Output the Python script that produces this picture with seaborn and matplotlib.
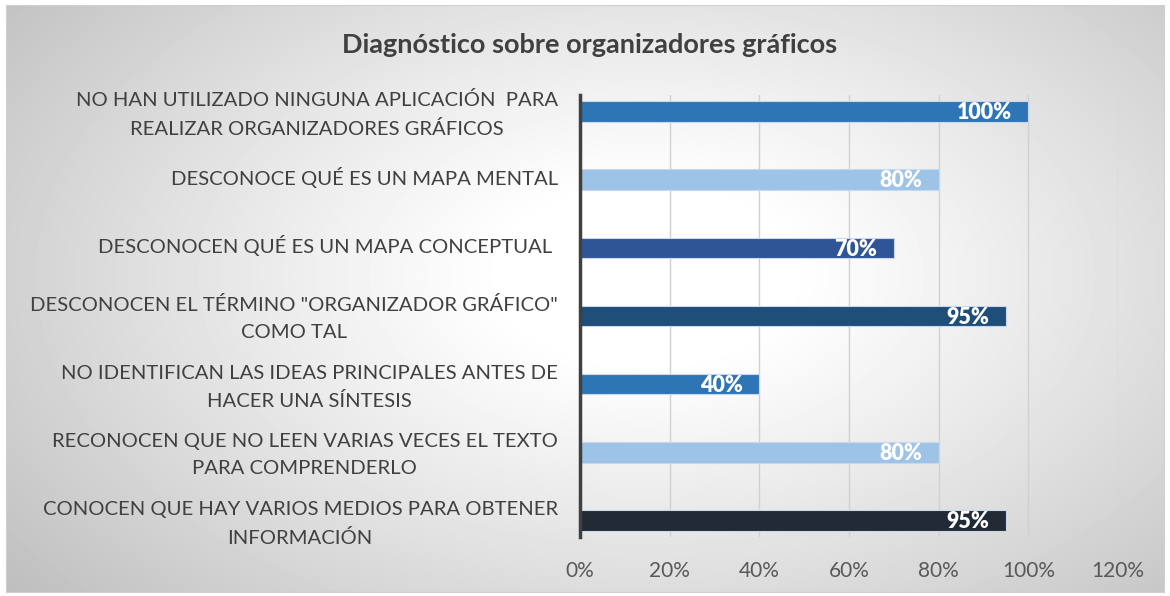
import numpy as np
import pandas as pd
import seaborn as sns
import matplotlib.pyplot as plt
from matplotlib.transforms import ScaledTranslation

categories = [
    "NO HAN UTILIZADO NINGUNA APLICACIÓN  PARA\nREALIZAR ORGANIZADORES GRÁFICOS",
    "DESCONOCE QUÉ ES UN MAPA MENTAL",
    "DESCONOCEN QUÉ ES UN MAPA CONCEPTUAL ",
    "DESCONOCEN EL TÉRMINO \"ORGANIZADOR GRÁFICO\"\nCOMO TAL",
    "NO IDENTIFICAN LAS IDEAS PRINCIPALES ANTES DE\nHACER UNA SÍNTESIS",
    "RECONOCEN QUE NO LEEN VARIAS VECES EL TEXTO\nPARA COMPRENDERLO",
    "CONOCEN QUE HAY VARIOS MEDIOS PARA OBTENER\nINFORMACIÓN",
]
values = [1.00, 0.80, 0.70, 0.95, 0.40, 0.80, 0.95]
bar_colors = ["#2E75B6", "#9DC3E6", "#2F5597", "#1F4E79", "#2E75B6", "#9DC3E6", "#222A35"]
xticks = [0, 0.2, 0.4, 0.6, 0.8, 1.0, 1.2]
title = "Diagnóstico sobre organizadores gráficos"

df = pd.DataFrame({"cat": categories, "val": values})

sns.set_style("white")
plt.rcParams["font.family"] = ["Lato", "DejaVu Sans"]

W, H = 1170, 596
fig = plt.figure(figsize=(W / 100, H / 100), dpi=100)
fig.patch.set_facecolor("white")

# fondo degradado radial (centro blanco, bordes grises)
bg = fig.add_axes([6 / W, 1 - 592 / H, 1158 / W, 587 / H], zorder=0)
yy, xx = np.mgrid[0:587, 0:1158]
r = np.sqrt(((xx - 640) / 700.0) ** 2 + ((yy - 270) / 420.0) ** 2)
shade = 1.0 - 0.26 * np.clip(r - 0.2, 0, 1) ** 1.1
bg.imshow(shade, cmap="gray", vmin=0, vmax=1, aspect="auto", interpolation="bilinear")
bg.set_xticks([])
bg.set_yticks([])
for s in bg.spines.values():
    s.set_color("#d0d0d0")
    s.set_linewidth(0.8)

ax = fig.add_axes([580 / W, 1 - 537 / H, (1118 - 580) / W, (537 - 95) / H], zorder=1)
ax.set_facecolor("none")

sns.barplot(data=df, y="cat", x="val", hue="cat", palette=bar_colors, legend=False,
            orient="h", width=0.30, saturation=1, ax=ax, edgecolor="#c9d8ea",
            linewidth=0.8, zorder=3)

ax.set_xlim(0, 1.2)
ax.set_ylim(6.24, -0.24)
ax.set_xticks(xticks)
ax.set_xticklabels([f"{int(round(t * 100))}%" for t in xticks])
ax.set_xlabel("")
ax.set_ylabel("")
ax.grid(axis="x", color="#d0d0d0", linewidth=1.0, zorder=0)
ax.grid(axis="y", visible=False)
for name in ["top", "right", "bottom"]:
    ax.spines[name].set_visible(False)
ax.spines["left"].set_color("#404040")
ax.spines["left"].set_linewidth(2.5)
ax.spines["left"].set_zorder(4)
ax.tick_params(axis="x", length=0, pad=17, labelsize=15, labelcolor="#595959")
ax.tick_params(axis="y", length=0, pad=16, labelsize=14.6, labelcolor="#404040")
shift = ScaledTranslation(0, 3.5 / 100, fig.dpi_scale_trans)
for lab in ax.get_yticklabels():
    lab.set_multialignment("center")
    lab.set_linespacing(1.7)
    lab.set_transform(lab.get_transform() + shift)

for i, v in enumerate(values):
    ax.text(v - 0.037, i + 0.02, f"{int(round(v * 100))}%", ha="right", va="center",
            color="white", fontsize=15.5, fontweight="heavy", zorder=5)

fig.text(590 / W, 1 - 45 / H, title, ha="center", va="center", fontsize=19.5,
         fontweight="bold", color="#404040")

fig.savefig("out.png", dpi=100)
plt.close(fig)
